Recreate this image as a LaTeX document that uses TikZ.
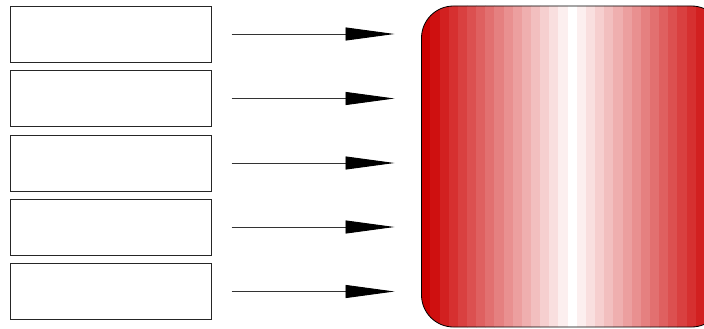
\documentclass[tikz,border=0pt]{standalone}
\usetikzlibrary{arrows.meta}
\definecolor{deepred}{RGB}{204,0,0}
\tikzset{
  box/.style={draw=black!85, line width=0.9pt, minimum width=201pt, minimum height=56pt, inner sep=0pt, outer sep=0pt},
  link/.style={draw=black!80, line width=0.9pt, -{Triangle[length=49pt, width=13pt, fill=black, color=black]}, shorten <=20pt, shorten >=27pt},
  bigbox/.style={draw=black, line width=0.8pt, rounded corners=32pt, minimum width=302pt, minimum height=321pt, inner sep=0pt, outer sep=0pt}
}
\begin{document}
\begin{tikzpicture}[x=1pt,y=1pt]
\useasboundingbox (0,0) rectangle (704,-329);
\clip (0,0) rectangle (704,-329);
\node[box] (b1) at (111,-34) {};
\node[box] (b2) at (111,-98.5) {};
\node[box] (b3) at (111,-163) {};
\node[box] (b4) at (111,-227) {};
\node[box] (b5) at (111,-291.5) {};
\coordinate (bigc) at (572.5,-166.5);
\begin{scope}
  \clip[rounded corners=32pt] (421.5,-6) rectangle (723.5,-327);
  \foreach \k in {-16,...,16}{
    \pgfmathsetmacro{\p}{abs(\k)/16*100}
    \pgfmathsetmacro{\xa}{572.5+(\k-0.5)*9.15-0.3}
    \pgfmathsetmacro{\xb}{572.5+(\k+0.5)*9.15+0.3}
    \fill[deepred!\p!white] (\xa,-5) rectangle (\xb,-328);
  }
\end{scope}
\node[bigbox] (big) at (bigc) {};
\foreach \i in {1,...,5}{
  \draw[link] (b\i.east) -- (b\i.east -| big.west);
}
\end{tikzpicture}
\end{document}
